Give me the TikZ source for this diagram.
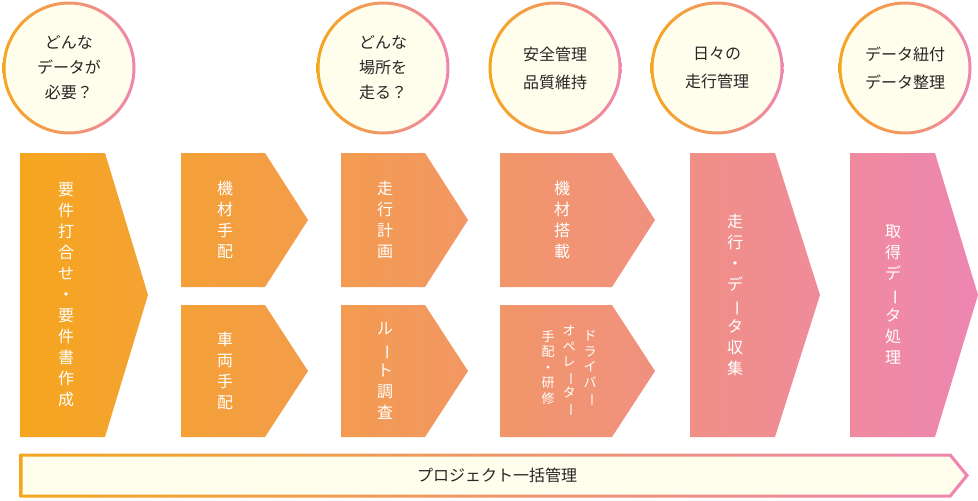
\documentclass[tikz,border=0pt]{standalone}
\usepackage{fontspec}
\newfontfamily\jp{Noto Sans CJK JP}
\usepackage{graphicx}
\definecolor{cor}{RGB}{245,166,30}
\definecolor{cmid}{RGB}{241,150,100}
\definecolor{cpk}{RGB}{238,134,178}
\definecolor{cream}{RGB}{255,253,236}
\newcommand{\vbar}{\rotatebox[origin=c]{-90}{ー}}
\begin{document}
\begin{tikzpicture}[x=1pt,y=-1pt,
  circtxt/.style={font=\jp\fontsize{16}{25}\selectfont,align=center,text=black!85},
  coltxt/.style={font=\jp\fontsize{16}{21}\selectfont,align=center,text=white},
  smalltxt/.style={font=\jp\fontsize{13}{15.5}\selectfont,align=center,text=white,anchor=north}]
\useasboundingbox (0,0) rectangle (978,501);
% pentagons with one shared gradient
\shade[shading=axis,shading angle=-62,left color=cor,middle color=cmid,right color=cpk]
 (20,153)--(105,153)--(148,295)--(105,437)--(20,437)--cycle
 (181,153)--(265,153)--(308,220)--(265,287)--(181,287)--cycle
 (181,305)--(265,305)--(308,371)--(265,437)--(181,437)--cycle
 (341,153)--(425,153)--(468,220)--(425,287)--(341,287)--cycle
 (341,305)--(425,305)--(468,371)--(425,437)--(341,437)--cycle
 (500,153)--(612,153)--(655,220)--(612,287)--(500,287)--cycle
 (500,305)--(612,305)--(655,371)--(612,437)--(500,437)--cycle
 (690,153)--(775,153)--(820,295)--(775,437)--(690,437)--cycle
 (850,153)--(935,153)--(978,295)--(935,437)--(850,437)--cycle;
% circles
\foreach \cx/\nm in {69/c1,383/c2,555/c3,717/c4,905/c5}{
  \fill[cream] (\cx,68) circle (65);
  \shade[even odd rule,shading=axis,shading angle=-55,left color=cor,right color=cpk]
    (\cx,68) circle (66.5) (\cx,68) circle (63.5);
  \coordinate (\nm) at (\cx,68);
}
\node[circtxt] (t1) at (c1) {どんな\\データが\\必要？};
\node[circtxt] (t2) at (c2) {どんな\\場所を\\走る？};
\node[circtxt,font=\jp\fontsize{16}{28}\selectfont] (t3) at (c3) {安全管理\\品質維持};
\node[circtxt,font=\jp\fontsize{16}{28}\selectfont] (t4) at (c4) {日々の\\走行管理};
\node[circtxt,font=\jp\fontsize{16}{28}\selectfont] (t5) at (c5) {データ紐付\\データ整理};
% column texts
\node[coltxt] (a1) at (66,295) {要\\件\\打\\合\\せ\\・\\要\\件\\書\\作\\成};
\node[coltxt] (a2) at (225,220) {機\\材\\手\\配};
\node[coltxt] (a3) at (225,371) {車\\両\\手\\配};
\node[coltxt] (a4) at (385,220) {走\\行\\計\\画};
\node[coltxt] (a5) at (385,371) {ル\\\vbar\\ト\\調\\査};
\node[coltxt] (a6) at (562,220) {機\\材\\搭\\載};
\node[smalltxt] (b1) at (590,327) {ド\\ラ\\イ\\バ\\\vbar};
\node[smalltxt] (b2) at (569,322) {オ\\ペ\\レ\\\vbar\\タ\\\vbar};
\node[smalltxt] (b3) at (548,327) {手\\配\\・\\研\\修};
\node[coltxt] (a7) at (735,295) {走\\行\\・\\デ\\\vbar\\タ\\収\\集};
\node[coltxt] (a8) at (893,295) {取\\得\\デ\\\vbar\\タ\\処\\理};
% bottom bar
\fill[cream] (21,455)--(950,455)--(966,475.5)--(950,496)--(21,496)--cycle;
\shade[even odd rule,shading=axis,shading angle=-85,left color=cor,right color=cpk]
 (19.5,453.5)--(951,453.5)--(969,475.5)--(951,497.5)--(19.5,497.5)--cycle
 (22.5,456.5)--(949.5,456.5)--(965,475.5)--(949.5,494.5)--(22.5,494.5)--cycle;
\node[font=\jp\fontsize{16}{20}\selectfont,text=black!85] (bar) at (497,475.5) {プロジェクト一括管理};
\end{tikzpicture}
\end{document}
